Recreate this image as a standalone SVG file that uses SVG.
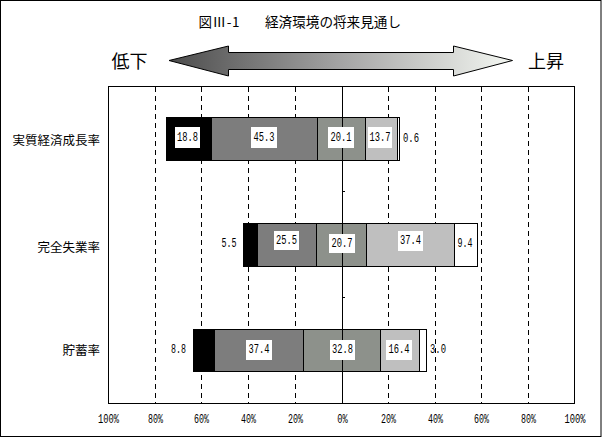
<svg xmlns="http://www.w3.org/2000/svg" width="602" height="438" viewBox="0 0 602 438">
<defs>
<linearGradient id="arrowGrad" gradientUnits="userSpaceOnUse" x1="169" y1="0" x2="512" y2="0">
<stop offset="0" stop-color="#4c4c4c"/>
<stop offset="0.5" stop-color="#a4a4a4"/>
<stop offset="1" stop-color="#f4f7f2"/>
</linearGradient>
<style>
.jp{font-family:"Noto Sans CJK JP","Noto Sans",sans-serif;fill:#000}
.num{font-family:"Liberation Mono","DejaVu Sans Mono",monospace;font-size:12px;fill:#000;text-anchor:middle;dominant-baseline:central}
.seg{stroke:#000;stroke-width:1}
.s1{fill:#000}
.s2{fill:#7d7d7d}
.s3{fill:#8d918b}
.s4{fill:#bfbfbf}
.s5{fill:#fff}
.box{fill:#fff;stroke:none}
.grid{stroke:#000;stroke-width:1;stroke-dasharray:5 4;fill:none}
.ax{stroke:#000;stroke-width:1;fill:none}
</style>
</defs>
<rect x="0" y="0" width="602" height="438" fill="#fff"/>
<rect x="0.5" y="0.5" width="600.5" height="436" fill="none" stroke="#000"/>

<g id="title">
<text class="jp" x="198.5" y="21" font-size="13.5" dominant-baseline="central" textLength="41" lengthAdjust="spacing">図Ⅲ-1</text>
<text class="jp" x="265" y="21" font-size="13.5" dominant-baseline="central" textLength="136" lengthAdjust="spacingAndGlyphs">経済環境の将来見通し</text>
</g>

<g id="direction-arrow">
<polygon points="169,60.5 228.5,46 228.5,52.5 453.5,52.5 453.5,46 512.5,60.5 453.5,76 453.5,69.5 228.5,69.5 228.5,76" fill="url(#arrowGrad)" stroke="#000" stroke-width="1"/>
<text class="jp" x="129.5" y="60" font-size="18" text-anchor="middle" dominant-baseline="central">低下</text>
<text class="jp" x="546" y="60" font-size="18" text-anchor="middle" dominant-baseline="central">上昇</text>
</g>

<g id="plot-frame">
<rect x="108.5" y="86.5" width="466" height="317" fill="#fff" stroke="#000"/>
</g>

<g id="gridlines">
<line class="grid" x1="155.5" y1="87" x2="155.5" y2="403"/>
<line class="grid" x1="201.5" y1="87" x2="201.5" y2="403"/>
<line class="grid" x1="248.5" y1="87" x2="248.5" y2="403"/>
<line class="grid" x1="295.5" y1="87" x2="295.5" y2="403"/>
<line class="grid" x1="388.5" y1="87" x2="388.5" y2="403"/>
<line class="grid" x1="435.5" y1="87" x2="435.5" y2="403"/>
<line class="grid" x1="481.5" y1="87" x2="481.5" y2="403"/>
<line class="grid" x1="528.5" y1="87" x2="528.5" y2="403"/>
</g>

<g id="bar-growth">
<rect class="seg s1" x="166.5" y="117.5" width="45" height="43"/>
<rect class="seg s2" x="211.5" y="117.5" width="106" height="43"/>
<rect class="seg s3" x="317.5" y="117.5" width="48" height="43"/>
<rect class="seg s4" x="365.5" y="117.5" width="32" height="43"/>
<rect class="seg s5" x="397.5" y="117.5" width="2" height="43"/>
</g>

<g id="bar-unemployment">
<rect class="seg s1" x="243.5" y="223.5" width="14" height="43"/>
<rect class="seg s2" x="257.5" y="223.5" width="59" height="43"/>
<rect class="seg s3" x="316.5" y="223.5" width="50" height="43"/>
<rect class="seg s4" x="366.5" y="223.5" width="88" height="43"/>
<rect class="seg s5" x="454.5" y="223.5" width="23" height="43"/>
</g>

<g id="bar-savings">
<rect class="seg s1" x="193.5" y="329.5" width="21" height="42"/>
<rect class="seg s2" x="214.5" y="329.5" width="89" height="42"/>
<rect class="seg s3" x="303.5" y="329.5" width="77" height="42"/>
<rect class="seg s4" x="380.5" y="329.5" width="39" height="42"/>
<rect class="seg s5" x="419.5" y="329.5" width="7" height="42"/>
</g>

<g id="center-axis">
<line class="ax" x1="342.5" y1="87" x2="342.5" y2="403"/>
<line class="ax" x1="342" y1="191.5" x2="345" y2="191.5"/>
<line class="ax" x1="342" y1="297.5" x2="345" y2="297.5"/>
</g>

<g id="labels-growth">
<rect class="box" x="175" y="127" width="25" height="21"/>
<text class="num" x="187.5" y="137.5" textLength="21" lengthAdjust="spacingAndGlyphs">18.8</text>
<rect class="box" x="251" y="127" width="26" height="21"/>
<text class="num" x="264" y="137.5" textLength="21" lengthAdjust="spacingAndGlyphs">45.3</text>
<rect class="box" x="328" y="127" width="26" height="21"/>
<text class="num" x="341" y="137.5" textLength="21" lengthAdjust="spacingAndGlyphs">20.1</text>
<rect class="box" x="368" y="127" width="24" height="21"/>
<text class="num" x="380" y="137.5" textLength="21" lengthAdjust="spacingAndGlyphs">13.7</text>
<text class="num" x="411" y="139" textLength="16" lengthAdjust="spacingAndGlyphs">0.6</text>
</g>

<g id="labels-unemployment">
<text class="num" x="229" y="244" textLength="15" lengthAdjust="spacingAndGlyphs">5.5</text>
<rect class="box" x="274" y="231" width="25" height="19"/>
<text class="num" x="286.5" y="240.5" textLength="21" lengthAdjust="spacingAndGlyphs">25.5</text>
<rect class="box" x="329" y="234" width="26" height="19"/>
<text class="num" x="342" y="243.5" textLength="21" lengthAdjust="spacingAndGlyphs">20.7</text>
<rect class="box" x="398" y="231" width="25" height="20"/>
<text class="num" x="410.5" y="241" textLength="21" lengthAdjust="spacingAndGlyphs">37.4</text>
<text class="num" x="465" y="244" textLength="15" lengthAdjust="spacingAndGlyphs">9.4</text>
</g>

<g id="labels-savings">
<text class="num" x="178.5" y="350" textLength="15" lengthAdjust="spacingAndGlyphs">8.8</text>
<rect class="box" x="246" y="340" width="26" height="20"/>
<text class="num" x="259" y="350" textLength="21" lengthAdjust="spacingAndGlyphs">37.4</text>
<rect class="box" x="330" y="340" width="25" height="20"/>
<text class="num" x="342.5" y="350" textLength="21" lengthAdjust="spacingAndGlyphs">32.8</text>
<rect class="box" x="386" y="340" width="26" height="20"/>
<text class="num" x="399" y="350" textLength="21" lengthAdjust="spacingAndGlyphs">16.4</text>
<text class="num" x="438" y="350" textLength="16" lengthAdjust="spacingAndGlyphs">3.0</text>
</g>

<g id="category-labels">
<text class="jp" x="100" y="139" font-size="12.5" text-anchor="end" dominant-baseline="central">実質経済成長率</text>
<text class="jp" x="100" y="246" font-size="12.5" text-anchor="end" dominant-baseline="central">完全失業率</text>
<text class="jp" x="100" y="349.5" font-size="12.5" text-anchor="end" dominant-baseline="central">貯蓄率</text>
</g>

<g id="axis-labels">
<text class="num" x="108.5" y="419.5" textLength="21" lengthAdjust="spacingAndGlyphs">100%</text>
<text class="num" x="155.5" y="419.5" textLength="15" lengthAdjust="spacingAndGlyphs">80%</text>
<text class="num" x="201.5" y="419.5" textLength="15" lengthAdjust="spacingAndGlyphs">60%</text>
<text class="num" x="248.5" y="419.5" textLength="15" lengthAdjust="spacingAndGlyphs">40%</text>
<text class="num" x="295.5" y="419.5" textLength="15" lengthAdjust="spacingAndGlyphs">20%</text>
<text class="num" x="342.5" y="419.5" textLength="10.5" lengthAdjust="spacingAndGlyphs">0%</text>
<text class="num" x="388.5" y="419.5" textLength="15" lengthAdjust="spacingAndGlyphs">20%</text>
<text class="num" x="435.5" y="419.5" textLength="15" lengthAdjust="spacingAndGlyphs">40%</text>
<text class="num" x="481.5" y="419.5" textLength="15" lengthAdjust="spacingAndGlyphs">60%</text>
<text class="num" x="528.5" y="419.5" textLength="15" lengthAdjust="spacingAndGlyphs">80%</text>
<text class="num" x="575" y="419.5" textLength="21" lengthAdjust="spacingAndGlyphs">100%</text>
</g>
</svg>
